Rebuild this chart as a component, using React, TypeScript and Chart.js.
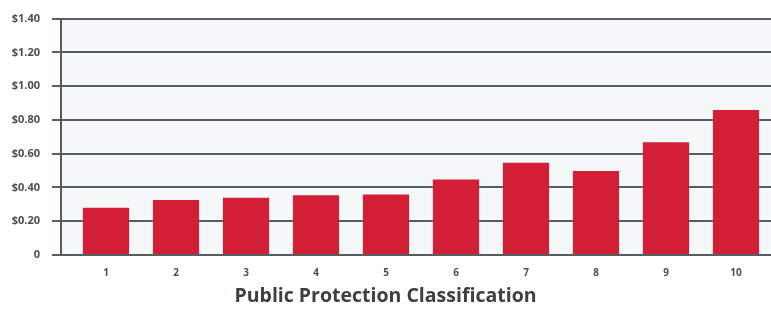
import React, { useEffect, useRef } from "react";
import { Chart, registerables } from "chart.js";

Chart.register(...registerables);

const classes = [1, 2, 3, 4, 5, 6, 7, 8, 9, 10];
const costs = [0.28, 0.325, 0.339, 0.354, 0.358, 0.447, 0.546, 0.498, 0.668, 0.858];
const yTicks = [0, 0.2, 0.4, 0.6, 0.8, 1.0, 1.2, 1.4];
const xTitle = "Public Protection Classification";

const bgPlugin = {
  id: "bgfill",
  beforeDraw(chart: any) {
    const { ctx, chartArea } = chart;
    ctx.save();
    ctx.fillStyle = "#f5f8f8";
    ctx.fillRect(chartArea.left, chartArea.top, chartArea.right - chartArea.left, chartArea.bottom - chartArea.top);
    ctx.restore();
  },
};

export default function App() {
  const ref = useRef<HTMLCanvasElement | null>(null);
  useEffect(() => {
    document.body.style.margin = "0";
    const chart = new Chart(ref.current as HTMLCanvasElement, {
      type: "bar",
      data: {
        datasets: [
          {
            data: classes.map((c, i) => ({ x: c, y: costs[i] })),
            backgroundColor: "#d21f36",
            borderWidth: 0,
            categoryPercentage: 1,
            barPercentage: 0.66,
          },
        ],
      },
      options: {
        animation: false,
        responsive: false,
        maintainAspectRatio: false,
        layout: { padding: { top: 14, right: 0, left: 0, bottom: 0 } },
        plugins: {
          legend: { display: false },
          tooltip: { enabled: false },
          title: {
            display: true,
            position: "bottom",
            fullSize: true,
            text: xTitle,
            color: "#3b4044",
            font: { family: "Open Sans", size: 19.5, weight: "bold", lineHeight: 1.2 },
            padding: { top: 3, bottom: 1 },
          },
        },
        scales: {
          x: {
            type: "linear",
            offset: false,
            min: 0.357,
            max: 10.5,
            afterBuildTicks(scale: any) {
              scale.ticks = classes.map((v) => ({ value: v }));
            },
            afterFit(scale: any) {
              scale.height = 26.6;
            },
            grid: { display: false },
            border: { display: false },
            ticks: {
              color: "#4a4f52",
              font: { family: "Open Sans", size: 10, weight: "bold" },
              padding: 4,
              autoSkip: false,
              maxRotation: 0,
              callback: (v: any) => String(v),
            },
          },
          y: {
            min: 0,
            max: 1.4,
            afterBuildTicks(scale: any) {
              scale.ticks = yTicks.map((v) => ({ value: v }));
            },
            afterFit(scale: any) {
              scale.width = 61;
            },
            grid: {
              color: "#575d60",
              lineWidth: 2,
              tickLength: 9,
              tickColor: "#575d60",
            },
            border: { display: true, color: "#575d60", width: 2 },
            ticks: {
              color: "#4a4f52",
              font: { family: "Open Sans", size: 11, weight: "bold" },
              padding: 12,
              callback: (v: any) => (Number(v) === 0 ? "0" : "$" + Number(v).toFixed(2)),
            },
          },
        },
      },
      plugins: [bgPlugin],
    });
    return () => chart.destroy();
  }, []);
  return (
    <div style={{ position: "absolute", left: 0, top: 0, width: 771, height: 309, background: "#fff" }}>
      <canvas ref={ref} width={771} height={309} style={{ width: 771, height: 309 }} />
    </div>
  );
}
